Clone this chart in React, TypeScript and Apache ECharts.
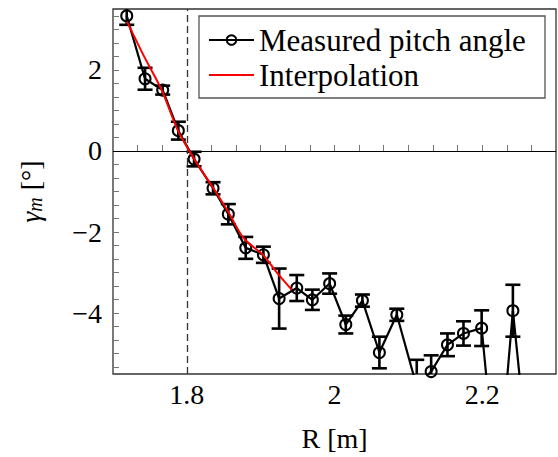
import React, { useEffect, useRef } from "react";
import * as echarts from "echarts";

// Measured pitch angle (R in m, gamma in degrees, error in degrees)
const radius = [1.7186, 1.7434, 1.7673, 1.7885, 1.8098, 1.8355, 1.8562, 1.8798, 1.9037, 1.925, 1.9489, 1.97, 1.9934, 2.0153, 2.0378, 2.0608, 2.0844, 2.1114, 2.1309, 2.153, 2.1747, 2.1993, 2.2207, 2.2416, 2.265];
const pitch = [3.33, 1.78, 1.5, 0.5, -0.2, -0.92, -1.56, -2.39, -2.56, -3.64, -3.38, -3.67, -3.27, -4.28, -3.69, -4.97, -4.04, -5.81, -5.44, -4.78, -4.5, -4.37, -8.4, -3.94, -8.1];
const pitchErr = [0.22, 0.27, 0.11, 0.22, 0.18, 0.15, 0.25, 0.27, 0.2, 0.74, 0.32, 0.25, 0.25, 0.22, 0.15, 0.39, 0.15, 0.66, 0.4, 0.28, 0.3, 0.44, 0.4, 0.64, 0.4];

// Interpolation curve
const interpR = [1.719, 1.743, 1.766, 1.788, 1.81, 1.836, 1.856, 1.877, 1.904, 1.922, 1.942];
const interpGamma = [3.19, 2.3, 1.5, 0.5, -0.2, -0.92, -1.5, -2.15, -2.58, -3.0, -3.42];

// Axes
const xTickLabels = [1.8, 2, 2.2];
const yTickLabels = [-4, -2, 0, 2];
const xRange = [1.7, 2.3];
const yRange = [-5.5, 3.5];
const separatrixR = 1.8027;

const FONT = "'Liberation Serif', 'Times New Roman', serif";

export default function App() {
  const ref = useRef<HTMLDivElement>(null);
  useEffect(() => {
    if (!ref.current) return;
    const chart = echarts.init(ref.current, null, { renderer: "svg" });
    // minor tick positions every 1/30 m on x and 1/3 degree on y
    const xT: number[] = [];
    for (let k = 52; k <= 68; k++) {
      const v = k / 30;
      if (v > xRange[0] + 1e-6 && v < xRange[1] - 1e-6) xT.push(+v.toFixed(6));
    }
    const yT: number[] = [];
    for (let k = -16; k <= 10; k++) {
      const v = k / 3;
      if (v > yRange[0] + 1e-6 && v < yRange[1] - 1e-6) yT.push(+v.toFixed(6));
    }
    const measured = radius.map((r, i) => [r, pitch[i]]);
    const errData = radius.map((r, i) => [r, pitch[i], pitchErr[i]]);
    const interp = interpR.map((r, i) => [r, interpGamma[i]]);
    const fmt = (v: number) => (v < 0 ? "\u2212" + Math.abs(v) : String(v));

    chart.setOption({
      animation: false,
      grid: {
        left: 113,
        top: 9,
        right: 2,
        bottom: 83,
        show: true,
        borderColor: "#333",
        borderWidth: 1.3,
        backgroundColor: "transparent",
      },
      legend: {
        orient: "vertical",
        left: 199,
        top: 16,
        padding: [8, 10, 7, 9],
        itemWidth: 45,
        itemHeight: 12,
        itemGap: 3,
        borderColor: "#555",
        borderWidth: 1.3,
        backgroundColor: "#fff",
        data: [
          { name: "Measured pitch angle" },
          { name: "Interpolation", itemStyle: { opacity: 0 } },
        ],
        textStyle: {
          fontFamily: FONT,
          fontSize: 31,
          color: "#000",
          lineHeight: 32,
          width: 276,
        },
      },
      xAxis: {
        type: "value",
        min: xRange[0],
        max: xRange[1],
        splitLine: { show: false },
        axisLine: { show: false },
        axisTick: { show: true, inside: true, length: 6, customValues: xT, lineStyle: { color: "#777", width: 1 } },
        axisLabel: {
          customValues: xTickLabels,
          formatter: fmt,
          fontFamily: FONT,
          fontSize: 28,
          color: "#000",
          margin: 6,
        },
        name: "R [m]",
        nameLocation: "middle",
        nameGap: 50,
        nameTextStyle: { fontFamily: FONT, fontSize: 28, color: "#000" },
      },
      yAxis: {
        type: "value",
        min: yRange[0],
        max: yRange[1],
        splitLine: { show: false },
        axisLine: { show: false },
        axisTick: { show: true, inside: true, length: 6, customValues: yT, lineStyle: { color: "#777", width: 1 } },
        axisLabel: {
          customValues: yTickLabels,
          formatter: fmt,
          fontFamily: FONT,
          fontSize: 28,
          color: "#000",
          margin: 11,
        },
        name: "{g|\u03b3}{s|m} {t|[\u00b0]}",
        nameLocation: "middle",
        nameGap: 68,
        nameTextStyle: {
          fontFamily: FONT,
          fontSize: 28,
          color: "#000",
          rich: {
            g: { fontFamily: FONT, fontSize: 28, fontStyle: "italic", color: "#000" },
            s: { fontFamily: FONT, fontSize: 20, fontStyle: "italic", color: "#000", padding: [10, 0, 0, 0] },
            t: { fontFamily: FONT, fontSize: 28, color: "#000" },
          },
        },
      },
      series: [
        {
          type: "custom",
          name: "errors",
          clip: true,
          z: 3,
          data: errData,
          renderItem: (params: any, api: any) => {
            const x = api.value(0);
            const y = api.value(1);
            const e = api.value(2);
            const top = api.coord([x, y + e]);
            const bot = api.coord([x, y - e]);
            const hw = 7.5;
            const style = { stroke: "#000", lineWidth: 2.6 };
            return {
              type: "group",
              children: [
                { type: "line", shape: { x1: top[0], y1: top[1], x2: bot[0], y2: bot[1] }, style },
                { type: "line", shape: { x1: top[0] - hw, y1: top[1], x2: top[0] + hw, y2: top[1] }, style },
                { type: "line", shape: { x1: bot[0] - hw, y1: bot[1], x2: bot[0] + hw, y2: bot[1] }, style },
              ],
            };
          },
        },
        {
          type: "line",
          name: "Measured pitch angle",
          data: measured,
          z: 4,
          symbol: "circle",
          symbolSize: 11,
          showSymbol: true,
          lineStyle: { color: "#000", width: 2.2 },
          itemStyle: { color: "rgba(255,255,255,0)", borderColor: "#000", borderWidth: 2 },
          markLine: {
            silent: true,
            symbol: "none",
            label: { show: false },
            data: [
              { yAxis: 0, lineStyle: { color: "#000", width: 1.2, type: "solid" } },
              { xAxis: separatrixR, lineStyle: { color: "#333", width: 1.3, type: [7, 4] } },
            ],
          },
        },
        {
          type: "line",
          name: "Interpolation",
          data: interp,
          z: 5,
          smooth: 0.3,
          symbol: "none",
          showSymbol: false,
          lineStyle: { color: "#ff0000", width: 2 },
          itemStyle: { color: "#ff0000" },
        },
      ],
    });
    return () => chart.dispose();
  }, []);
  return <div ref={ref} style={{ width: 558, height: 457, position: "absolute", left: 0, top: 0 }} />;
}
